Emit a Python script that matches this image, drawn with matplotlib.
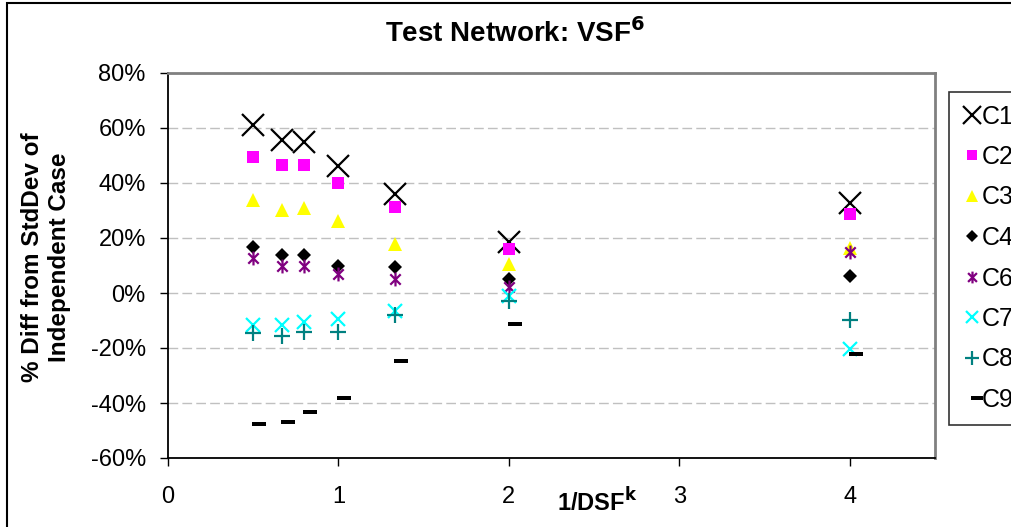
import matplotlib
matplotlib.use("Agg")
import matplotlib.pyplot as plt
from matplotlib.path import Path
from matplotlib.patches import Rectangle
from matplotlib.ticker import FuncFormatter

plt.rcParams['font.family'] = ['Liberation Sans', 'DejaVu Sans']

x_vals = [0.5, 0.67, 0.8, 1.0, 1.33, 2.0, 4.0]
series_names = ["C1", "C2", "C3", "C4", "C6", "C7", "C8", "C9"]
c1 = [61, 55.6, 55, 46.3, 35.9, 18.7, 32.6]
c2 = [49.6, 46.7, 46.7, 40.1, 31.4, 16.1, 28.6]
c3 = [33.8, 30.2, 30.8, 26.3, 17.8, 10.5, 16.2]
c4 = [16.8, 13.8, 13.8, 9.8, 9.6, 5.2, 6.3]
c6 = [12.8, 9.9, 9.9, 6.9, 5.0, 2.3, 15.0]
c7 = [-11.6, -11.6, -10.4, -9.6, -6.4, -1.1, -20.4]
c8 = [-14.7, -15.6, -14.1, -14.1, -8.0, -2.9, -9.8]
c9 = [-47.8, -47.0, -43.4, -38.3, -24.6, -11.4, -22.3]
x_ticks = [0, 1, 2, 3, 4]
y_ticks = [-60, -40, -20, 0, 20, 40, 60, 80]

W, H = 1011, 527
fig = plt.figure(figsize=(W / 100, H / 100), dpi=100)
ax = fig.add_axes([168 / W, (H - 458) / H, (935 - 168) / W, (458 - 73) / H])

# custom markers
aster = Path([(0, -1), (0, 1), (-0.75, -0.75), (0.75, 0.75), (-0.75, 0.75), (0.75, -0.75)],
             [Path.MOVETO, Path.LINETO, Path.MOVETO, Path.LINETO, Path.MOVETO, Path.LINETO])
dash = Path([(-0.07, -0.16), (1.0, -0.16), (1.0, 0.16), (-0.07, 0.16), (-0.07, -0.16)],
            [Path.MOVETO, Path.LINETO, Path.LINETO, Path.LINETO, Path.CLOSEPOLY])

styles = [
    dict(marker='x', color='black', ms=16, mew=1.6, mfc='none'),
    dict(marker='s', color='#ff00ff', ms=8.5, mew=0),
    dict(marker='^', color='#ffff00', ms=10, mew=0),
    dict(marker='D', color='black', ms=7, mew=0),
    dict(marker=aster, color='#800080', ms=10, mew=1.6, mfc='none'),
    dict(marker='x', color='#00ffff', ms=10.5, mew=1.6, mfc='none'),
    dict(marker='+', color='#008080', ms=12, mew=1.6),
    dict(marker=dash, color='black', ms=19, mew=0),
]
data = [c1, c2, c3, c4, c6, c7, c8, c9]
handles = []
for name, ys, st in zip(series_names, data, styles):
    h, = ax.plot(x_vals, ys, linestyle='none', label=name, clip_on=False, **st)
    handles.append(h)

ax.set_xlim(0, 4.5)
ax.set_ylim(-60, 80)
ax.set_xticks(x_ticks)
ax.set_yticks(y_ticks)
ax.yaxis.set_major_formatter(FuncFormatter(lambda v, p: f"{int(round(v))}%"))
ax.tick_params(axis='both', direction='out', length=6, width=1, labelsize=17, color='black')
ax.tick_params(axis='y', pad=10)
ax.tick_params(axis='x', pad=14)
ax.grid(axis='y', color='#c0c0c0', linestyle=(0, (7, 3)), linewidth=1)
ax.set_axisbelow(True)
for s in ['top', 'right']:
    ax.spines[s].set_color('#808080')
    ax.spines[s].set_linewidth(2)
for s in ['left', 'bottom']:
    ax.spines[s].set_color('black')
    ax.spines[s].set_linewidth(1.3)

fig.text(515 / W, 1 - 33 / H, "Test Network: VSF$^{\\mathbf{6}}$", ha='center', va='center',
         fontsize=20, fontweight='bold')
fig.text(46 / W, 1 - 257 / H, "% Diff from StdDev of\nIndependent Case", ha='center', va='center',
         rotation=90, fontsize=17.5, fontweight='bold', linespacing=1.25, multialignment='center')
fig.text(597 / W, 1 - 502 / H, "1/DSF$^{\\mathbf{k}}$", ha='center', va='center',
         fontsize=17, fontweight='bold')

leg = fig.legend(handles=handles, loc='upper left', bbox_to_anchor=(949 / W, 1 - 92 / H),
                 fontsize=18, frameon=True, fancybox=False, edgecolor='black',
                 borderpad=0.5, handlelength=0.8, handletextpad=0.0, labelspacing=0.66,
                 borderaxespad=0, markerscale=0.85)
leg.get_frame().set_linewidth(1.2)

# outer chart border
fig.patches.append(Rectangle((7 / W, -0.1), 1.2, 1 - 3 / H + 0.1, transform=fig.transFigure,
                             fill=False, edgecolor='black', linewidth=1.5, clip_on=False))

fig.savefig("out.png", dpi=100)
